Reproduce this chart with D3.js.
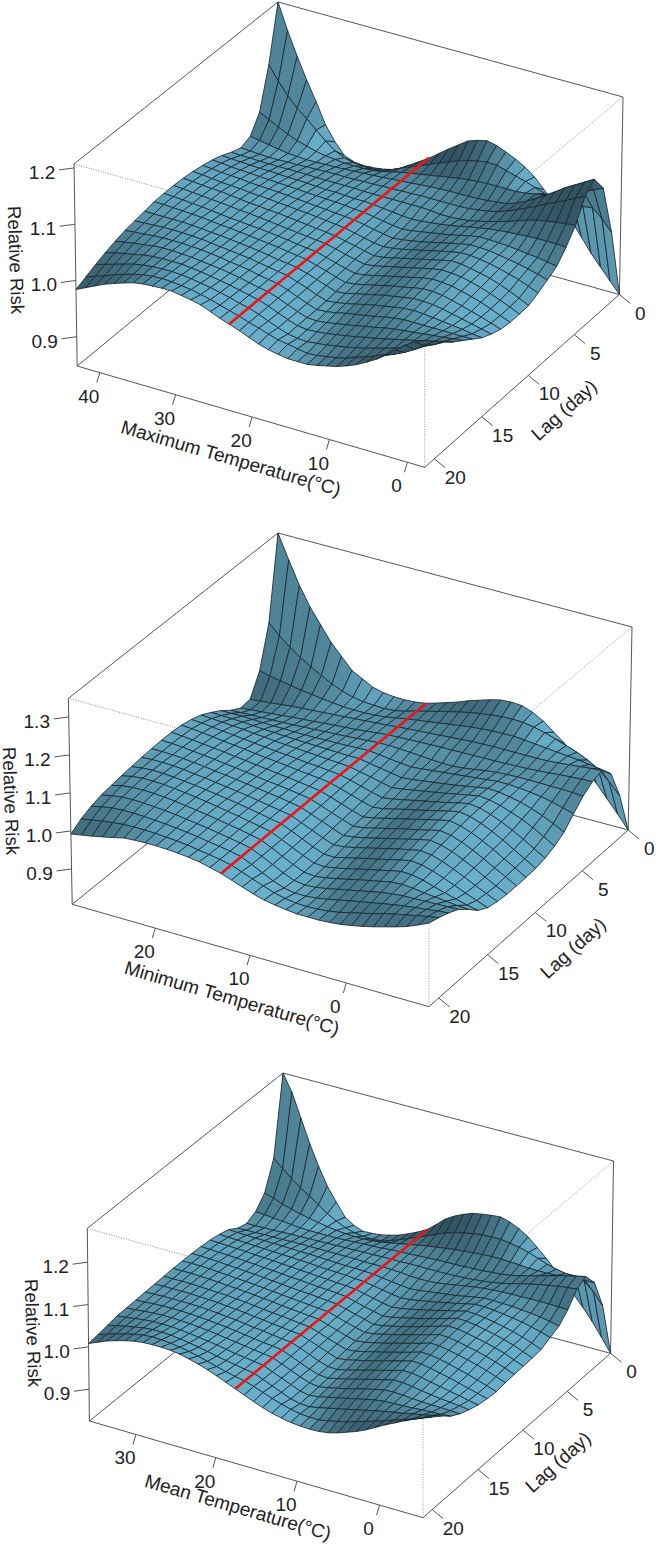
<!DOCTYPE html>
<html><head><meta charset="utf-8">
<script src="https://cdnjs.cloudflare.com/ajax/libs/d3/7.8.5/d3.min.js"></script>
<style>body{margin:0;background:#fff}text{font-family:"Liberation Sans",Arial,sans-serif;fill:#222}</style>
</head><body><svg id="c" width="658" height="1545"></svg>
<script>
const lagTicks=[0,5,10,15,20];
// excess relative risk x 1000; rows = lag 0..21, columns = hottest to coldest temperature
const maxTempRisk=[
[207,160,118,80,45,8,-18,-38,-45,-47,-46,-44,-40,-33,-22,-11,0,13,26,38,50,56,60,56,49,41,31,18,0,-17,-30,-45,-68,-92,-112,-132,-152],
[107,82,60,42,28,12,-3,-16,-24,-28,-30,-30,-28,-22,-14,-7,0,7,14,21,28,33,37,40,39,34,29,24,18,12,7,5,6,8,10,-5,-25],
[35,26,17,9,2,-3,-8,-11,-13,-15,-15,-15,-14,-11,-7,-3,0,3,6,9,12,15,17,19,20,20,20,20,22,25,29,33,39,46,53,62,70],
[5,2,-1,-4,-7,-8,-9,-9,-8,-8,-7,-6,-5,-4,-3,-1,0,1,3,4,5,6,6,6,7,8,10,12,18,26,36,47,58,70,80,90,100],
[-2,-3,-4,-5,-5,-4,-4,-3,-3,-2,-2,-2,-2,-1,-1,0,0,1,1,2,2,2,2,2,3,5,8,12,18,25,33,41,50,58,66,75,83],
[4,3,3,2,2,2,2,2,2,1,1,1,1,1,0,0,0,0,0,0,0,-1,-3,-3,-2,0,4,8,13,18,24,30,35,38,41,43,45],
[12,11,10,9,8,8,7,6,6,5,4,3,3,2,1,1,0,-2,-4,-6,-7,-6,-4,-2,1,4,8,11,14,16,18,19,20,21,21,21,20],
[18,17,15,14,13,12,11,10,9,8,7,6,5,4,3,1,0,-3,-6,-9,-11,-9,-6,-3,0,3,7,11,14,14,13,12,10,8,6,3,0],
[22,21,19,18,17,15,14,13,12,11,9,8,6,5,3,2,0,-3,-7,-10,-13,-11,-8,-5,-1,3,7,11,14,14,13,10,7,4,0,-5,-10],
[25,24,22,20,19,18,16,15,14,12,11,9,8,6,4,2,0,-4,-8,-12,-14,-12,-9,-5,-1,3,7,11,14,14,12,9,5,0,-5,-12,-19],
[27,26,24,23,22,20,18,16,15,13,12,10,8,6,4,2,0,-4,-8,-12,-16,-14,-10,-6,-2,2,6,10,14,13,10,6,2,-4,-11,-19,-27],
[28,27,25,24,22,21,19,17,16,14,12,10,8,6,4,2,0,-4,-9,-13,-17,-15,-11,-7,-3,1,5,9,12,11,9,5,0,-6,-13,-20,-28],
[28,27,26,24,23,21,19,17,16,14,13,11,9,7,4,2,0,-5,-10,-15,-19,-17,-13,-9,-5,-1,3,7,10,9,7,3,-2,-7,-14,-21,-28],
[27,27,26,25,24,23,21,19,18,16,14,12,10,8,5,3,0,-5,-10,-16,-21,-19,-15,-11,-7,-3,0,4,7,7,5,1,-4,-9,-14,-20,-26],
[24,24,24,24,24,23,22,20,19,17,15,13,11,8,5,3,0,-5,-11,-17,-23,-21,-17,-13,-9,-5,-2,1,4,4,3,0,-4,-8,-12,-16,-20],
[21,22,23,24,24,24,23,22,20,18,16,14,12,9,6,3,0,-6,-12,-19,-25,-23,-20,-16,-12,-8,-5,-2,1,2,1,-1,-3,-5,-7,-10,-12],
[18,20,21,23,24,24,24,23,22,20,18,15,13,10,6,3,0,-6,-13,-20,-26,-25,-22,-18,-15,-12,-9,-5,-2,0,0,0,0,0,0,0,0],
[13,16,19,21,24,25,25,24,23,21,19,17,14,11,7,3,0,-6,-13,-20,-26,-27,-25,-22,-19,-16,-12,-9,-5,-2,0,2,4,6,8,10,12],
[7,11,15,18,22,24,25,25,25,23,21,18,15,12,8,4,0,-6,-13,-20,-26,-28,-27,-25,-22,-19,-16,-12,-9,-5,-1,3,7,11,15,20,24],
[0,5,10,15,20,23,25,26,26,25,23,20,17,13,9,4,0,-6,-13,-20,-26,-29,-30,-28,-26,-23,-20,-16,-12,-7,-2,3,8,14,21,29,38],
[-8,-2,4,10,16,21,25,27,28,27,25,23,19,15,10,5,0,-6,-11,-17,-22,-25,-28,-31,-30,-27,-24,-20,-13,-8,-1,6,12,20,30,42,54],
[-16,-8,0,8,14,20,25,28,29,30,30,27,24,20,13,6,0,-6,-13,-20,-25,-28,-31,-31,-31,-28,-24,-20,-14,-7,2,12,24,38,52,62,70]];
const minTempRisk=[
[349,285,225,175,135,95,65,35,20,5,-2,-5,-6,-4,0,8,17,26,37,46,55,62,64,62,52,36,14,-8,-36,-60,-92,-125,-158,-193],
[130,103,80,60,43,27,12,0,-8,-13,-15,-16,-14,-8,0,7,14,21,28,34,39,43,46,47,46,41,34,25,15,5,-8,-25,-50,-80],
[23,17,11,6,1,-3,-7,-10,-13,-14,-14,-13,-10,-5,0,4,8,12,16,20,24,27,29,30,30,28,25,22,19,16,13,9,5,0],
[-32,-30,-27,-24,-21,-19,-17,-15,-13,-11,-9,-7,-5,-3,0,2,4,6,8,10,12,14,15,16,16,16,16,16,17,19,22,25,28,30],
[-35,-32,-30,-27,-25,-22,-20,-18,-15,-13,-11,-9,-6,-3,0,1,2,3,4,5,5,6,6,7,7,8,9,10,12,14,17,19,21,22],
[-20,-19,-18,-17,-16,-15,-14,-12,-11,-9,-8,-6,-4,-2,0,0,-1,-3,-5,-7,-9,-9,-6,-2,3,6,8,9,9,9,8,8,7,5],
[0,0,0,-1,-2,-3,-3,-4,-4,-4,-3,-3,-2,-1,0,-3,-7,-10,-13,-10,-7,-4,-1,2,5,8,11,11,9,6,2,-4,-12,-20],
[16,15,14,13,11,9,8,6,5,4,3,2,1,0,0,-5,-10,-15,-20,-17,-13,-9,-5,-1,4,9,14,12,7,1,-8,-19,-32,-47],
[30,28,26,24,22,19,17,14,12,10,8,6,4,2,0,-6,-12,-19,-25,-21,-16,-11,-6,-1,5,10,16,13,6,-4,-15,-29,-45,-62],
[39,37,34,31,28,25,22,19,16,14,11,8,6,3,0,-7,-15,-23,-30,-26,-20,-14,-8,-2,4,11,17,13,4,-8,-22,-38,-55,-72],
[45,43,40,37,33,30,27,23,20,17,14,10,7,4,0,-8,-17,-26,-34,-30,-23,-16,-10,-3,4,11,17,12,2,-11,-26,-43,-60,-77],
[47,45,42,39,36,33,29,26,22,19,15,12,8,4,0,-9,-19,-29,-38,-33,-26,-19,-12,-5,2,9,15,9,-1,-14,-29,-46,-62,-79],
[47,46,44,41,38,35,31,28,24,20,16,13,9,5,0,-10,-21,-31,-41,-37,-30,-23,-16,-9,-3,4,11,6,-4,-17,-32,-48,-63,-79],
[46,46,45,43,40,37,33,30,26,22,18,14,10,5,0,-11,-22,-33,-44,-40,-34,-27,-20,-13,-6,1,7,2,-7,-20,-34,-50,-65,-79],
[44,46,46,45,43,39,36,32,28,24,20,15,10,5,0,-12,-24,-36,-47,-44,-38,-31,-24,-17,-10,-4,2,-2,-11,-23,-36,-50,-63,-76],
[41,45,47,46,44,41,38,34,30,26,21,16,11,5,0,-12,-25,-38,-49,-50,-43,-36,-29,-23,-16,-9,-3,-6,-14,-25,-36,-48,-59,-70],
[38,44,47,47,46,43,40,36,32,27,22,17,11,6,0,-13,-26,-39,-51,-53,-48,-42,-35,-28,-22,-15,-9,-10,-16,-25,-33,-41,-49,-55],
[34,41,44,45,44,42,39,35,31,27,22,17,12,6,0,-13,-27,-41,-53,-56,-52,-46,-40,-33,-27,-21,-15,-13,-15,-19,-22,-25,-28,-30],
[30,36,40,41,40,38,36,33,29,25,21,16,11,6,0,-13,-27,-41,-53,-57,-55,-50,-44,-38,-32,-26,-20,-16,-13,-12,-11,-10,-9,-8],
[22,28,33,35,35,34,32,30,27,24,20,15,11,6,0,-13,-27,-40,-51,-56,-56,-53,-48,-42,-36,-30,-25,-19,-14,-9,-5,-2,2,5],
[10,15,20,24,27,28,28,27,25,23,20,15,11,6,0,-10,-21,-31,-41,-48,-52,-53,-52,-49,-44,-37,-30,-23,-15,-8,-2,4,10,15],
[-8,-3,2,8,14,21,23,24,24,23,21,18,14,7,0,-10,-20,-30,-38,-43,-47,-50,-50,-50,-48,-45,-40,-34,-27,-19,-11,-2,10,23]];
const meanTempRisk=[
[280,240,185,130,82,40,8,-22,-36,-44,-43,-41,-36,-30,-21,-11,0,18,37,50,60,68,72,75,77,71,61,47,28,8,-15,-38,-60,-85,-112,-143,-175],
[95,76,58,42,28,13,-2,-14,-24,-30,-33,-34,-32,-26,-18,-9,0,9,18,27,34,39,43,46,47,47,44,40,34,26,18,12,8,8,2,-18,-45],
[30,23,15,8,3,-2,-6,-10,-13,-15,-16,-16,-15,-12,-8,-4,0,4,8,11,14,17,19,21,23,24,24,23,22,20,20,20,21,23,25,27,28],
[3,1,-1,-3,-5,-7,-8,-8,-8,-8,-7,-6,-5,-4,-3,-1,0,1,2,3,4,5,5,6,7,8,10,12,15,20,26,32,38,44,50,55,60],
[-8,-8,-7,-7,-6,-5,-5,-4,-4,-3,-3,-2,-2,-1,-1,0,0,0,1,1,1,1,1,2,3,5,7,10,14,19,25,30,35,39,43,46,48],
[-2,-1,-1,0,0,0,1,1,1,1,1,1,1,1,0,0,0,-1,-2,-4,-5,-5,-3,0,4,8,11,14,16,17,18,18,19,19,19,18,18],
[12,11,10,9,9,8,8,7,6,6,5,4,3,2,2,1,0,-3,-6,-9,-11,-9,-6,-3,0,3,7,11,15,15,14,13,11,9,6,2,-3],
[18,17,16,15,14,13,12,11,10,9,8,6,5,4,3,1,0,-4,-8,-12,-15,-13,-9,-5,-1,4,8,13,18,18,16,13,10,6,1,-5,-12],
[22,21,20,19,18,16,15,14,12,11,9,8,6,5,3,2,0,-5,-10,-15,-19,-16,-12,-7,-2,3,9,14,20,19,16,12,7,2,-5,-13,-22],
[24,23,22,21,20,18,17,15,14,12,10,9,7,5,4,2,0,-6,-12,-17,-22,-19,-14,-9,-4,2,8,14,21,20,17,12,7,1,-6,-15,-24],
[25,25,24,23,21,20,18,17,15,13,11,9,7,6,4,2,0,-6,-12,-18,-24,-21,-16,-11,-5,1,8,14,21,20,16,11,6,0,-7,-16,-25],
[25,25,25,24,22,21,19,18,16,14,12,10,8,6,4,2,0,-6,-13,-19,-25,-22,-17,-12,-6,0,6,12,19,18,14,9,4,-2,-9,-17,-26],
[25,25,25,24,23,22,20,19,17,15,13,11,8,6,4,2,0,-7,-14,-21,-27,-24,-19,-14,-8,-2,4,10,17,16,12,7,2,-4,-11,-19,-27],
[24,24,24,24,23,22,21,20,18,16,14,11,9,7,5,2,0,-7,-15,-22,-29,-27,-22,-16,-11,-5,1,7,14,13,9,4,-2,-8,-15,-22,-30],
[23,24,24,24,24,23,22,21,19,17,15,12,10,7,5,2,0,-8,-16,-24,-32,-29,-24,-19,-13,-7,-1,5,11,10,6,1,-4,-10,-16,-22,-28],
[22,23,24,24,24,24,23,22,20,18,16,13,10,8,5,2,0,-8,-17,-26,-33,-34,-29,-23,-17,-11,-5,1,7,7,3,-2,-6,-11,-15,-20,-24],
[21,22,24,25,25,25,24,23,21,19,17,14,11,8,5,3,0,-9,-18,-27,-34,-36,-31,-26,-20,-14,-8,-3,3,3,0,-4,-7,-10,-12,-14,-17],
[20,22,24,26,27,27,26,25,23,21,18,15,12,9,6,3,0,-9,-18,-27,-35,-38,-34,-29,-24,-18,-12,-7,-2,-1,-2,-4,-5,-6,-6,-7,-8],
[19,22,25,28,30,30,30,28,26,23,20,17,13,9,6,3,0,-9,-18,-27,-36,-40,-37,-32,-27,-22,-17,-12,-7,-4,-3,-2,-1,1,2,3,5],
[15,20,25,29,33,35,35,34,31,28,24,20,15,11,7,3,0,-9,-18,-27,-36,-41,-42,-38,-33,-28,-23,-18,-13,-8,-3,1,5,10,14,19,24],
[11,18,25,31,36,40,42,41,39,36,32,27,21,15,9,4,0,-7,-15,-23,-30,-36,-40,-42,-42,-38,-33,-28,-21,-14,-7,0,8,15,23,32,40],
[8,17,26,33,39,44,47,48,48,47,44,39,33,26,18,9,0,-9,-18,-26,-33,-38,-42,-44,-45,-44,-41,-35,-27,-19,-9,3,15,26,37,47,56]];
const panels=[
{risk:maxTempRisk,tempHi:43,tempLo:-2.2,refTemp:23,zLo:.848,zHi:1.207,
 tempTicks:[40,30,20,10,0],riskTicks:[.9,1,1.1,1.2],xTitle:"Maximum Temperature(°C)",
 box:{FL:[77.2,366],FR:[424.7,467.3],BR:[619.4,294.5],BL:[279,200],TL:[74,164],TF:[424.7,262],TR:[623,97],TB:[278,2]},
 xTitlePos:[231,458],lagTitlePos:[564,410],zTitlePos:[16,260]},
{risk:minTempRisk,tempHi:28.9,tempLo:-8.45,refTemp:13,zLo:.807,zHi:1.349,
 tempTicks:[20,10,0],riskTicks:[.9,1,1.1,1.2,1.3],xTitle:"Minimum Temperature(°C)",
 box:{FL:[72.2,904.3],FR:[428.9,1006.7],BR:[628.2,830],BL:[279.4,736.5],TL:[68.4,698.3],TF:[429,797],TR:[632,627],TB:[278,533]},
 xTitlePos:[232,998],lagTitlePos:[573,948],zTitlePos:[11,801]},
{risk:meanTempRisk,tempHi:35.9,tempLo:-5.2,refTemp:17.6,zLo:.825,zHi:1.28,
 tempTicks:[30,20,10,0],riskTicks:[.9,1,1.1,1.2],xTitle:"Mean Temperature(°C)",
 box:{FL:[89.4,1421],FR:[423,1517.7],BR:[610.6,1353.3],BL:[282.4,1265],TL:[87.3,1228.3],TF:[423,1321.5],TR:[613.5,1161],TB:[283,1073]},
 xTitlePos:[238,1507],lagTitlePos:[558,1462],zTitlePos:[33,1333]}
];
const W=1.2, slopeCap=1.6, light=[.58,-.14,.8], base=[106,176,204], gamma=1.3, spanT=3, spanL=1;
const svg=d3.select("#c");
function quad(p00,p10,p11,p01){
 const dx1=p10[0]-p11[0],dx2=p01[0]-p11[0],sx=p00[0]-p10[0]+p11[0]-p01[0];
 const dy1=p10[1]-p11[1],dy2=p01[1]-p11[1],sy=p00[1]-p10[1]+p11[1]-p01[1];
 const den=dx1*dy2-dx2*dy1,g=(sx*dy2-dx2*sy)/den,h=(dx1*sy-sx*dy1)/den;
 const a=p10[0]-p00[0]+g*p10[0],b=p01[0]-p00[0]+h*p01[0],c=p00[0];
 const d=p10[1]-p00[1]+g*p10[1],e=p01[1]-p00[1]+h*p01[1],f=p00[1];
 return (u,v)=>{const q=g*u+h*v+1;return[(a*u+b*v+c)/q,(d*u+e*v+f)/q];};
}
panels.forEach(P=>{
 const g=svg.append("g"),B=P.box;
 const nT=P.risk[0].length-1,nL=P.risk.length-1;
 const xS=d3.scaleLinear().domain([P.tempHi,P.tempLo]).range([0,1]);
 const yS=d3.scaleLinear().domain([0,21]).range([0,1]);
 const zS=d3.scaleLinear().domain([P.zLo,P.zHi]).range([0,1]);
 const bot=quad(B.BL,B.BR,B.FR,B.FL),top=quad(B.TB,B.TR,B.TF,B.TL);
 const proj=(t,l,z)=>{const u=xS(t),v=yS(l),w=zS(z),a=bot(u,v),b=top(u,v);return[a[0]+(b[0]-a[0])*w,a[1]+(b[1]-a[1])*w];};
 const tempAt=i=>P.tempHi+(P.tempLo-P.tempHi)*i/nT;
 const seg=(a,b,dash,col,sw)=>g.append("line").attr("x1",a[0]).attr("y1",a[1]).attr("x2",b[0]).attr("y2",b[1]).attr("stroke",col||"#555").attr("stroke-width",sw||1).attr("stroke-dasharray",dash||null);
 seg(B.TL,B.TF,"1 1.5","#888");seg(B.TF,B.TR,"1 1.5","#999");seg(B.FR,B.TF,"1 1.5","#999");
 seg(B.FL,B.BL);seg(B.BL,B.BR);seg(B.BL,B.TB);seg(B.TL,B.TB);seg(B.TB,B.TR);seg(B.TL,B.FL);seg(B.TR,B.BR);seg(B.FL,B.FR);seg(B.FR,B.BR);
 const line=d3.line(),soft=d=>slopeCap*Math.tanh(d/slopeCap);
 for(let j=0;j<nL;j++)for(let i=0;i<nT;i++){
  const R=P.risk,v=(a,b)=>1+R[a][b]/1000;
  const i0=Math.max(0,i-spanT),i1=Math.min(nT,i+1+spanT),j0=Math.max(0,j-spanL),j1=Math.min(nL,j+1+spanL);
  const du=soft((zS(v(j,i1))+zS(v(j+1,i1))-zS(v(j,i0))-zS(v(j+1,i0)))/2/(i1-i0)*nT*W);
  const dv=soft((zS(v(j1,i))+zS(v(j1,i+1))-zS(v(j0,i))-zS(v(j0,i+1)))/2/(j1-j0)*nL*W);
  const len=Math.hypot(du,dv,1),dot=(-du*light[0]-dv*light[1]+light[2])/len;
  const f=Math.pow((1+dot)/2,gamma);
  g.append("path").attr("d",line([[j,i],[j,i+1],[j+1,i+1],[j+1,i]].map(q=>proj(tempAt(q[1]),q[0],v(q[0],q[1]))))+"Z")
   .attr("fill",`rgb(${base.map(c=>Math.round(c*f))})`).attr("stroke","#1a2830").attr("stroke-width",.85).attr("stroke-linejoin","round");
 }
 g.append("path").attr("d",line(P.risk.map((r,l)=>proj(P.refTemp,l,1))))
  .attr("fill","none").attr("stroke","#f01414").attr("stroke-width",2.6);
 P.tempTicks.forEach(t=>{const a=proj(t,21,P.zLo);seg(a,[a[0]-3,a[1]+10]);
  g.append("text").attr("x",a[0]-11).attr("y",a[1]+30).attr("text-anchor","middle").attr("font-size",19).text(t);});
 lagTicks.forEach(l=>{const a=proj(P.tempLo,l,P.zLo);seg(a,[a[0]+11,a[1]+9]);
  g.append("text").attr("x",a[0]+21).attr("y",a[1]+25).attr("text-anchor","middle").attr("font-size",19).text(l);});
 P.riskTicks.forEach(z=>{const a=proj(P.tempHi,21,z);seg(a,[a[0]-15,a[1]+2]);
  g.append("text").attr("x",a[0]-32).attr("y",a[1]+11).attr("text-anchor","middle").attr("font-size",19).text(d3.format(".1f")(z));});
 const title=(pos,ang,s)=>g.append("text").attr("transform",`translate(${pos}) rotate(${ang})`).attr("text-anchor","middle").attr("dy",".35em").attr("font-size",19).text(s);
 title(P.xTitlePos,16.2,P.xTitle);title(P.lagTitlePos,-42,"Lag (day)");
 g.append("text").attr("transform",`translate(${P.zTitlePos}) rotate(88)`).attr("text-anchor","middle").attr("dy",".35em").attr("font-size",18.5).text("Relative Risk");
});
</script></body></html>
